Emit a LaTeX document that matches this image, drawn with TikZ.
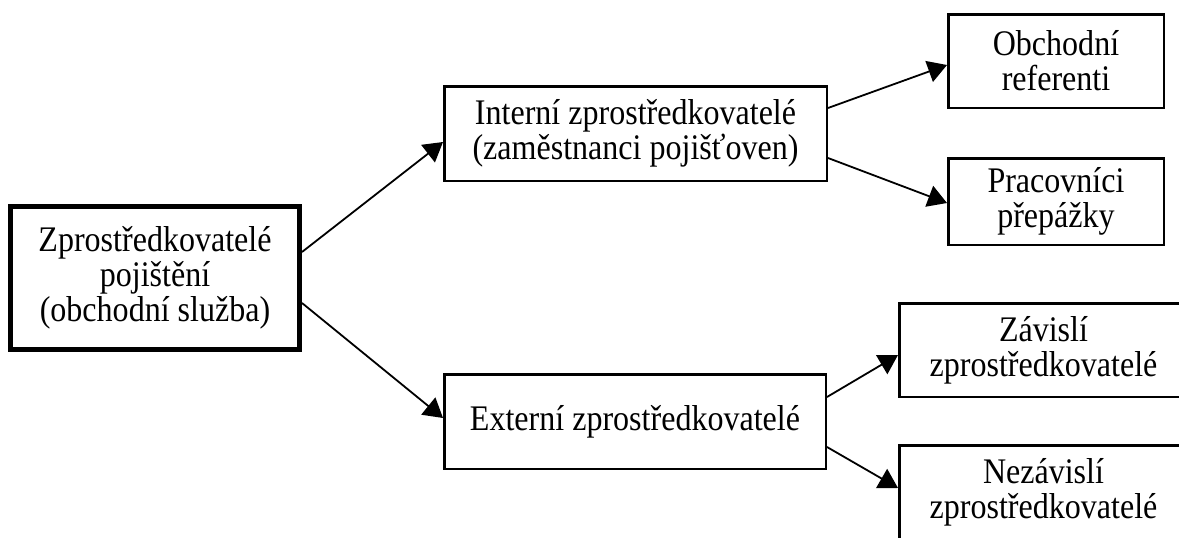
\documentclass[tikz,border=0pt]{standalone}
\usepackage{fontspec}
\setmainfont{Liberation Serif}[FakeStretch=0.89]
\usetikzlibrary{arrows.meta,calc}
\begin{document}
\begin{tikzpicture}[x=1pt,y=-1pt,
  box/.style={draw=black,line width=2.5pt,fill=white,inner sep=0pt,align=center,
    font=\fontsize{36}{35}\selectfont},
  rootbox/.style={box,line width=5pt},
  link/.style={line width=1.8pt,-{Triangle[length=19pt,width=22pt]}}]
\useasboundingbox (0,0) rectangle (1179,538);
\clip (0,0) rectangle (1179,538);

% hierarchy of boxes
\node[rootbox,minimum width=289pt,minimum height=143pt] (root) at (155,278)
  {Zprostředkovatelé\\pojištění\\(obchodní služba)};
\node[box,minimum width=382.5pt,minimum height=94.5pt] (intern) at (635.5,133.5)
  {Interní zprostředkovatelé\\(zaměstnanci pojišťoven)};
\node[box,minimum width=381.5pt,minimum height=94.5pt] (extern) at (635,421.5)
  {Externí zprostředkovatelé};
\node[box,minimum width=215.5pt,minimum height=93.5pt] (obch) at (1056,61)
  {Obchodní\\referenti};
\node[box,minimum width=215.5pt,minimum height=86.5pt] (prac) at (1056,201.5)
  {Pracovníci\\přepážky};
\node[box,minimum width=288.5pt,minimum height=93.5pt] (zav) at (1043.5,350)
  {Závislí\\zprostředkovatelé};
\node[box,minimum width=288.5pt,minimum height=93.5pt] (nezav) at (1043.5,492)
  {Nezávislí\\zprostředkovatelé};

% connectors
\draw[link] ($(root.east)+(0,-26)$) -- ($(intern.west)+(0,8.5)$);
\draw[link] ($(root.east)+(0,25)$) -- ($(extern.west)+(0,-3.5)$);
\draw[link] ($(intern.east)+(0,-25.5)$) -- ($(obch.west)+(0,4)$);
\draw[link] ($(intern.east)+(0,24.5)$) -- ($(prac.west)+(0,1.5)$);
\draw[link] ($(extern.east)+(0,-24.5)$) -- ($(zav.west)+(0,5)$);
\draw[link] ($(extern.east)+(0,25.5)$) -- ($(nezav.west)+(0,-4)$);
\end{tikzpicture}
\end{document}
